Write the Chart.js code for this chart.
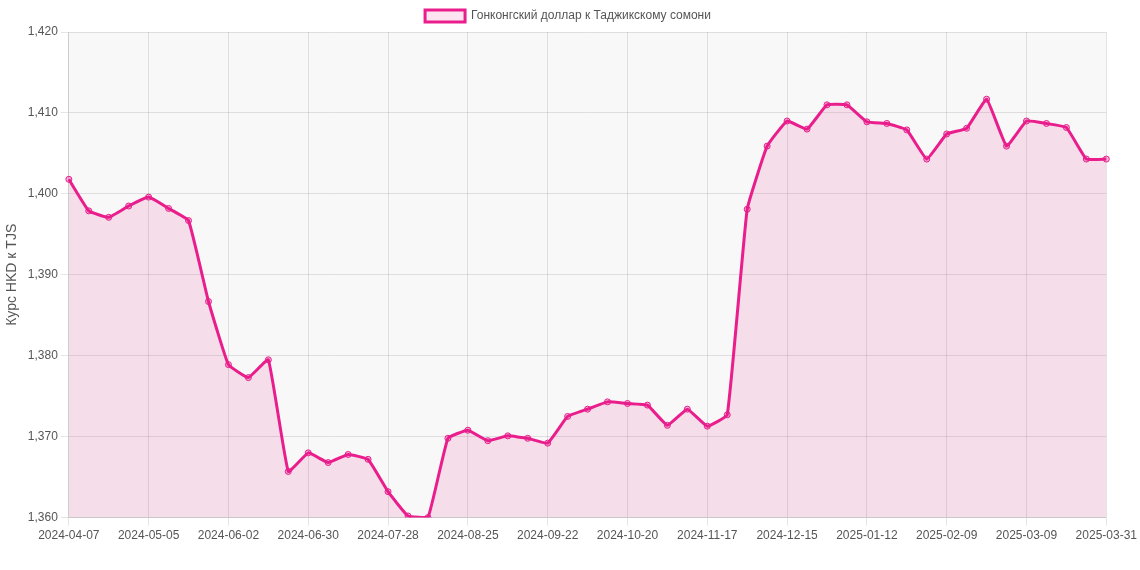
<!DOCTYPE html>
<html>
<head>
<meta charset="utf-8">
<script src="https://cdn.jsdelivr.net/npm/chart.js@4"></script>
<style>
  html, body { margin: 0; padding: 0; background: #fff; }
  #wrap { width: 1140px; height: 570px; }
</style>
</head>
<body>
<div id="wrap"><canvas id="chart"></canvas></div>
<script>
const labels = [];
{
  const d = new Date(Date.UTC(2024, 3, 7));
  for (let i = 0; i < 52; i++) {
    labels.push(d.toISOString().slice(0, 10));
    d.setUTCDate(d.getUTCDate() + 7);
  }
  labels.push("2025-03-31");
}

const rates = [
  1.4018, 1.3979, 1.3971, 1.3985, 1.3996, 1.3982, 1.3967, 1.3867, 1.3789, 1.3773,
  1.3795, 1.3657, 1.3680, 1.3668, 1.3678, 1.3672, 1.3632, 1.3602, 1.3600, 1.3698,
  1.3708, 1.3695, 1.3701, 1.3698, 1.3692, 1.3725, 1.3734, 1.3743, 1.3741, 1.3739,
  1.3714, 1.3734, 1.3713, 1.3727, 1.3981, 1.4059, 1.4090, 1.4080, 1.4110, 1.4110,
  1.4089, 1.4087, 1.4079, 1.4043, 1.4074, 1.4081, 1.4117, 1.4059, 1.4090, 1.4087,
  1.4082, 1.4043, 1.4043
];

const seriesLabel = "Гонконгский доллар к Таджикскому сомони";
const yTitle = "Курс HKD к TJS";

const shown = i => i % 4 === 0 || i === labels.length - 1;

const plotBg = {
  id: "plotBg",
  beforeDraw(chart) {
    const { ctx, chartArea: a } = chart;
    ctx.save();
    ctx.fillStyle = "#f8f8f8";
    ctx.fillRect(a.left, a.top, a.right - a.left, a.bottom - a.top);
    ctx.restore();
  }
};

Chart.defaults.font.family = "'Liberation Sans', Arial, sans-serif";
Chart.defaults.font.size = 12;
Chart.defaults.color = "#555";

new Chart(document.getElementById("chart"), {
  type: "line",
  data: {
    labels,
    datasets: [{
      label: seriesLabel,
      data: rates,
      borderColor: "#e91e8c",
      backgroundColor: "rgba(233,30,140,0.12)",
      borderWidth: 3,
      fill: true,
      tension: 0.1,
      pointRadius: 3,
      pointBorderWidth: 1,
      pointBackgroundColor: "rgba(233,30,140,0.3)",
      pointBorderColor: "#e91e8c"
    }]
  },
  options: {
    responsive: true,
    maintainAspectRatio: false,
    animation: false,
    layout: { padding: { right: 4, bottom: 24 } },
    plugins: {
      legend: {
        labels: { boxWidth: 40, boxHeight: 12, color: "#555" }
      }
    },
    scales: {
      x: {
        grid: { color: c => shown(c.index) ? "rgba(0,0,0,0.1)" : "rgba(0,0,0,0)" },
        ticks: {
          autoSkip: false,
          maxRotation: 0,
          callback: (v, i) => shown(i) ? labels[i] : ""
        }
      },
      y: {
        min: 1.36,
        max: 1.42,
        title: { display: true, text: yTitle, font: { size: 14 } },
        grid: { color: "rgba(0,0,0,0.1)" },
        ticks: {
          stepSize: 0.01,
          callback: v => v.toFixed(3).replace(".", ",")
        }
      }
    }
  },
  plugins: [plotBg]
});
</script>
</body>
</html>
